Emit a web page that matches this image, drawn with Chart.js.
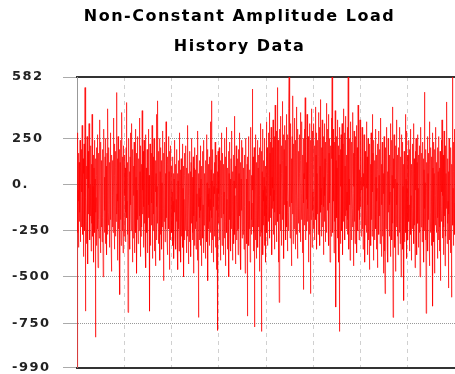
<!DOCTYPE html>
<html><head><meta charset="utf-8">
<script src="https://cdn.jsdelivr.net/npm/chart.js@4/dist/chart.umd.min.js"></script>
<style>html,body{margin:0;padding:0;background:#fff}#wrap{width:455px;height:374px}</style>
</head><body><div id="wrap"><canvas id="c" width="455" height="374"></canvas></div>
<script>
const titleLines = ['Non-Constant Amplitude Load', 'History Data'];
const yTicks = [582, 250, 0, -250, -500, -750, -990];
const yTickLabels = ['582', '250', '0.', '-250', '-500', '-750', '-990'];

const seg1 = [-990,
280,-120,60,-260,-30,170,-340,-90,120,-200,30,-150,240,-60,-310,90,-10,-230,190,-110,
-40,320,-180,10,-270,140,-80,-390,60,220,-140,-20,-250,525,40,-685,150,-70,-200,100,
-320,30,260,-110,-50,-430,180,-160,70,-20,330,-240,-90,130,-300,0,-170,210,-60,-360,
110,-30,-210,380,-130,60,-280,-10,160,-190,-420,90,240,-100,-40,-260,30,-826,140,-150,
-70,200,-330,50,-120,270,-20,-240,-450,110,-60,170,-190,-290,350,-80,20,-160,90,-370,
230,-100,-40,-230,130,-310,60,-10,190,-180,-500,80,-120,300,-60,-260,40,-140,150,-320,
-20,250,-210,-90,100,-380,170,-30,-270,60,410,-150,-50,-220,200,-110,10,-340,120,-80,
-190,280,-40,-300,70,-140,-470,160,20,-230,130,-60,-260,360,-100,-10,-180,220,-350,50,
-120,180,-280,-20,90,-200,310,498,-160,-50,-410,140,-90,260,-240,30,-130,-300,190,-70,
0,-595,120,-190,240,-60,-330,80,-140,390,-20,-250,150,-100,-370,60,-30,210,-280,-90];
const seg2 = [
160,-240,-60,90,-310,30,-150,200,-20,444,-180,-90,120,-270,40,-692,180,-130,-30,250,
-210,-60,70,-350,150,-110,280,-40,-250,10,-160,330,-90,-420,60,-20,190,-290,-130,100,
-60,230,-370,-10,120,-200,-80,300,-260,40,-140,170,-480,-30,80,-190,260,-90,-320,20,
140,-100,-250,360,-50,-170,70,-390,210,-20,-280,110,-130,30,-230,400,-70,-160,-30,180,
-340,60,-120,240,-210,-40,150,-300,0,-90,270,-450,90,-150,20,-260,190,-60,-370,120,
-20,-180,300,-110,50,-280,-60,-685,220,-140,40,-330,110,-20,-220,170,-100,320,-400,-30,
80,-250,150,-70,-160,250,-360,10,-90,190,-230,-440,130,-40,60,-300,380,-120,-10,-210,
110,453,-200,-60,180,-320,30,-140,250,-90,-410,70,-20,-270,200,-160,-50,130,-350,10,
-100,290,-230,40,-130,-520,170,-30,-200,90,-60,230,-310,-120,60,-240,340,-80,-180,20,
-290,150,-50,-380,110,-170,260,-20,-240,70,-120,-460,180,-60,-300,40,210,-140,-30,-220];
const seg3 = [
100,-260,-40,-180,150,-330,-90,60,-220,-400,30,-150,-60,240,-290,-20,-170,110,-350,-80,
-200,190,-30,-310,60,-120,-460,20,-240,130,-90,-360,280,-150,-10,-270,80,-200,-50,-420,
140,-110,-280,30,-190,220,-60,-340,-20,-230,100,-500,-80,170,-160,-300,50,-30,-250,-120,
210,-180,-40,-370,90,-130,-280,10,320,-220,-100,-430,60,-60,-170,180,-310,-20,-240,70,
-150,-390,120,-80,-210,250,-40,-300,-120,40,-260,150,-480,-20,-170,90,-330,-60,200,-140,
-30,-240,80,-350,-100,160,-200,-50,-410,20,-150,290,-260,-719,60,-120,-20,-300,130,-180,
-70,210,-330,-140,30,-250,-440,100,-60,-190,180,-10,-290,-110,50,-370,240,-220,-40,-130,
60,-280,-170,130,-400,-30,-220,270,-90,-310,10,-160,190,-520,-50,-240,110,-120,-20,-330,
150,-200,-80,340,-260,-40,-140,80,-370,453,-180,20,-300,-90,190,-230,-420,60,-120,-10,
-280,120,-190,-50,230,-340,-100,40,-250,-460,160,-140,-20,-300,70,-789,180,-210,-60,-160];
const seg4 = [
-50,200,-300,-90,60,-230,-410,130,-20,-180,280,-140,-60,-330,40,-250,170,-100,-20,-380,
110,-160,-40,250,-290,-70,-200,20,-440,150,-120,-30,310,-260,-80,-170,90,-350,-10,-220,
180,-100,-500,60,-190,-30,230,-280,-120,30,-360,140,-60,-240,-10,290,-150,-410,70,-90,
-200,160,-50,-320,20,-130,370,-270,-60,-180,100,-430,-20,210,-150,-300,50,-90,-250,140,
-30,-380,190,-110,-240,60,-20,-170,280,-330,-70,120,-200,-460,30,-140,240,-60,-290,10,
-150,200,-270,-40,-110,90,-350,160,-200,-10,-120,-480,70,-260,250,-80,-170,30,-320,110,
-60,-712,150,-200,20,-140,260,-330,-90,80,-240,-40,-420,130,-160,310,-20,-270,50,-190,
-100,517,-230,-30,150,-360,60,-120,-260,200,-70,-771,40,-180,270,-300,-10,-140,120,-400,
30,-210,-80,240,-150,-340,90,-20,-230,160,-110,-470,200,-60,-280,20,-190,330,-120,-795,
180,-50,-260,70,-140,300,-380,-30,130,-220,-90,40,-330,250,-170,-10,-290,100,-420,-60];
const seg5 = [
340,-150,90,-260,200,20,-330,150,-80,280,-200,50,-120,390,-40,-290,170,-10,-180,230,
-60,310,-240,100,-380,40,200,-130,-20,350,-270,120,-90,-30,260,-350,80,-150,430,-10,
-220,160,-60,290,-310,20,-120,525,80,-200,240,-40,-420,180,-100,-638,300,20,-160,110,
-250,370,-30,-140,210,-330,60,-80,450,-190,130,-20,-280,270,-60,-400,190,50,-110,320,
-170,20,240,-300,100,-40,380,-230,-90,150,-360,270,-10,-150,60,-250,410,582,-120,-20,
200,-290,90,-60,330,-200,140,-440,30,-100,260,-20,-160,480,-320,70,-40,220,-240,120,
-90,360,-180,10,-350,240,-60,150,-270,420,-30,-120,90,-400,300,-70,180,-210,40,-130,
270,-260,60,-20,390,-150,-310,130,-50,220,-190,340,-80,10,-370,160,-30,-568,250,-100,
60,-220,300,-140,30,470,-60,-300,180,-10,-250,120,-80,380,-200,40,-130,260,-420,90,
-30,200,-160,330,-270,60,-110,-590,240,-20,-190,410,-70,120,-340,30,290,-140,-40,190];
const seg6 = [
120,-240,330,-60,40,-300,210,-130,420,-20,-190,160,-80,280,-350,60,-10,240,-160,90,
-270,390,-40,150,-210,20,310,-330,100,-90,460,-150,-20,200,-280,70,-110,350,-50,-230,
180,-10,-380,260,-120,40,330,-200,-60,140,-310,230,10,-160,440,-90,-260,120,-30,300,
-140,60,-230,380,-40,-330,170,-100,250,-20,-420,90,210,-180,30,-280,360,-70,140,582,
-150,20,-260,300,-90,170,-30,-370,230,-120,60,-200,400,-50,-310,-663,130,-20,260,-180,
90,-290,350,-60,-140,210,-20,-420,160,-795,40,-230,310,-100,190,-320,-10,270,-170,80,
-250,330,-30,140,-380,220,-80,50,-200,410,-120,-20,280,-300,100,-60,-170,370,-240,10,
160,-140,-40,310,-270,80,-190,582,-60,200,-350,30,250,-110,-20,-410,190,-80,340,-160,
40,-300,230,-30,-130,390,-230,100,-50,-440,170,-10,290,-200,60,-120,-320,260,-70,150,
-210,320,-90,30,-370,200,-20,130,-250,430,-140,-30,240,-300,80,-60,-190,350,-110,20];
const seg7 = [
-120,230,-280,40,-170,-30,310,-240,-90,150,-350,60,-200,-10,270,-310,-60,120,-420,180,
-40,-220,90,-140,340,-260,-20,150,-380,30,-110,250,-300,-60,190,-170,-460,70,-30,220,
-250,110,-90,-330,280,-10,-190,60,-280,380,-130,-40,170,-410,20,-220,240,-100,-20,-300,
130,-160,-60,300,-240,40,-350,160,-90,-20,-200,220,-450,80,-130,-30,290,-270,50,-170,
-80,190,-320,10,-150,360,-230,-40,110,-390,-110,230,-10,-280,140,-190,-480,60,-50,260,
-160,-30,-360,-590,200,-100,30,-240,310,-130,-20,170,-340,70,-200,-420,250,-60,-150,90,
20,-280,160,-110,-40,330,-250,-390,100,-170,240,-20,-300,50,-130,420,-210,-719,140,-60,
-20,270,-190,-90,130,-340,30,-140,-470,210,-60,-230,350,-110,10,-280,160,-40,-380,90,
-150,200,-40,-260,70,-100,310,-320,-30,150,-210,-500,40,-120,270,-170,-60,230,-350,-10,
110,-240,-90,-627,180,-30,-310,120,-150,380,-70,-260,30,-180,290,-400,-20,160,-110,-230];
const seg8 = [
-300,160,-50,240,-200,-110,40,-360,190,-20,-150,300,-270,-60,110,-410,80,-130,-30,220,
-240,30,-170,330,-80,-320,140,-10,-220,60,-450,180,-100,-30,250,-290,20,-160,-380,120,
-60,270,-210,-20,90,-340,160,-120,-40,-260,210,-500,50,-90,-180,310,-230,0,-140,170,
-310,40,-100,230,-200,-50,140,-420,80,-30,-250,500,-130,10,-300,190,-60,-697,120,-170,
-20,-280,260,-120,-360,60,-190,170,-40,-230,340,-80,-440,110,-150,20,-260,200,-30,-330,
150,-90,-200,280,-20,-658,90,-150,-40,230,-310,60,-120,-480,190,-60,-220,40,310,-170,
-30,-260,120,-100,-400,200,-50,-180,70,-300,260,-10,-150,-360,90,-230,180,-70,-520,30,
-120,240,-200,-40,350,-290,50,-140,-60,160,-380,20,-230,290,-90,-170,100,-440,-20,210,
-280,60,-130,180,-50,447,-320,-10,140,-210,-90,-560,70,-160,250,-30,-300,130,-60,-190,
40,-370,200,-90,-250,-610,110,-40,-180,582,-220,-20,230,-330,70,-130,-60,300,-270,-100];

const loadValues = [].concat(seg1, seg2, seg3, seg4, seg5, seg6, seg7, seg8);
const points = loadValues.map((v, i) => ({x: i, y: v}));
const xMax = loadValues.length - 1;
const xStep = xMax / 8;

const spacingPlugin = {
  id: 'spacing',
  beforeDraw(chart) { chart.ctx.letterSpacing = '1.5px'; },
  afterDraw(chart) { chart.ctx.letterSpacing = '0px'; }
};
const titleShift = {
  id: 'titleShift',
  afterLayout(chart) { if (chart.titleBlock) { chart.titleBlock.left = 24; } }
};

new Chart(document.getElementById('c'), {
  type: 'line',
  data: {
    datasets: [{
      data: points,
      borderColor: 'rgba(255,0,0,0.65)',
      borderWidth: 1,
      pointRadius: 0,
      fill: false,
      tension: 0
    }]
  },
  plugins: [spacingPlugin, titleShift],
  options: {
    responsive: false,
    animation: false,
    devicePixelRatio: 1,
    layout: {padding: {left: 12, right: 0, top: 0, bottom: 0}},
    plugins: {
      legend: {display: false},
      tooltip: {enabled: false},
      title: {
        display: true,
        text: titleLines,
        color: '#000',
        font: {family: 'DejaVu Sans', size: 16, weight: 'bold', lineHeight: '30px'},
        padding: {top: 2, bottom: 15}
      }
    },
    scales: {
      x: {
        type: 'linear', min: 0, max: xMax, position: 'bottom',
        ticks: {display: false, stepSize: xStep},
        grid: {
          color: c => (c.tick && (c.tick.value <= 0 || c.tick.value >= xMax)) ? 'rgba(0,0,0,0)' : '#d0d0d0',
          drawTicks: false, lineWidth: 1
        },
        border: {color: '#333', width: 2, dash: [4, 4]}
      },
      xTop: {
        type: 'linear', min: 0, max: xMax, position: 'top',
        ticks: {display: false},
        grid: {display: false, drawTicks: false},
        border: {color: '#333', width: 2}
      },
      y: {
        type: 'linear', min: -990, max: 582,
        afterBuildTicks: s => { s.ticks = yTicks.map(v => ({value: v})); },
        afterFit: s => { s.width = 65; },
        ticks: {
          callback: v => yTickLabels[yTicks.indexOf(v)],
          crossAlign: 'far', padding: 0, color: '#222',
          font: {family: 'DejaVu Sans', size: 13, weight: 'bold', lineHeight: 1}
        },
        grid: {
          color: c => (c.tick && (c.tick.value === 582 || c.tick.value === -990)) ? 'rgba(0,0,0,0)' : '#999',
          tickColor: '#aaa', tickLength: 14, tickWidth: 1, lineWidth: 1
        },
        border: {color: '#999', width: 1, dash: [1, 1]}
      }
    }
  }
});
</script>
</body></html>
